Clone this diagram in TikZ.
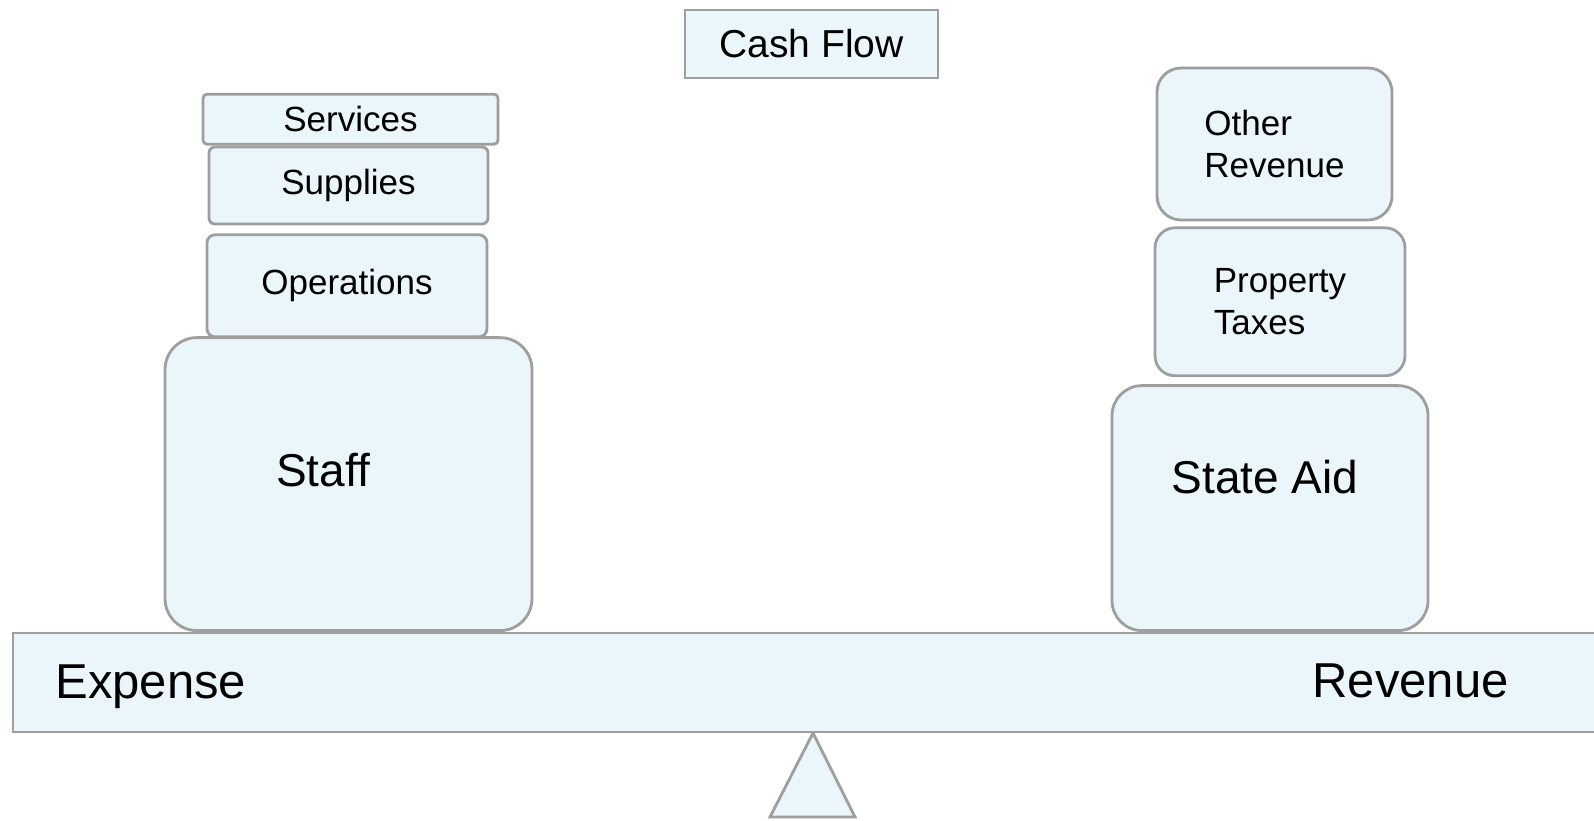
\documentclass[tikz,border=0pt]{standalone}
\usepackage{fontspec}
\setmainfont{Liberation Sans}
\usetikzlibrary{positioning}
\definecolor{boxfill}{RGB}{234,246,250}
\definecolor{boxline}{RGB}{158,158,158}
\tikzset{
  block/.style={draw=boxline, fill=boxfill, line width=1.4pt, inner sep=0pt,
    align=left, font=\fontsize{17.5}{21}\selectfont},
  bigtext/.style={inner sep=0pt, font=\fontsize{23}{27}\selectfont},
  beamtext/.style={inner sep=0pt, font=\fontsize{24.5}{28}\selectfont},
}
\begin{document}
\begin{tikzpicture}[x=0.5pt, y=-0.5pt]
\useasboundingbox (0,0) rectangle (1594,820);

% the beam and its pivot
\draw[draw=boxline, fill=boxfill, line width=1.4pt] (813,733) -- (770,817) -- (855,817) -- cycle;
\node[block, minimum width=803.5pt, minimum height=49.5pt] (beam) at (816.5,682.5) {};
\node[beamtext, anchor=base west] (expense) at (55,698) {Expense};
\node[beamtext, anchor=base east] (revenue) at (1509,697) {Revenue};

\node[block, minimum width=126.5pt, minimum height=34pt, font=\fontsize{19.5}{23}\selectfont] (cash) at (811.5,44) {Cash Flow};

% expense side
\node[block, rounded corners=16pt, minimum width=183.5pt, minimum height=146.5pt, anchor=south] (staff) at (348.5,632) {};
\node[bigtext] (stafflbl) at (323,470) {Staff};
\node[block, rounded corners=4pt, minimum width=140pt, minimum height=51pt, above=-1pt of staff, xshift=-0.75pt] (ops) {Operations};
\node[block, rounded corners=3pt, minimum width=139.5pt, minimum height=38.5pt, above=4pt of ops, xshift=0.75pt] (supplies) {Supplies};
\node[block, rounded corners=2pt, minimum width=147.5pt, minimum height=25pt, above=0pt of supplies, xshift=1pt] (services) {Services};

% revenue side
\node[block, rounded corners=15pt, minimum width=158pt, minimum height=122.5pt, anchor=south] (stateaid) at (1270,632) {};
\node[bigtext] (stateaidlbl) at (1265,477) {State Aid};
\node[block, rounded corners=10pt, minimum width=125pt, minimum height=74pt, above=3.5pt of stateaid, xshift=5pt] (property) {Property\\Taxes};
\node[block, rounded corners=12pt, minimum width=117.5pt, minimum height=76pt, above=2.5pt of property, xshift=-2.75pt] (other) {Other\\Revenue};
\end{tikzpicture}
\end{document}
